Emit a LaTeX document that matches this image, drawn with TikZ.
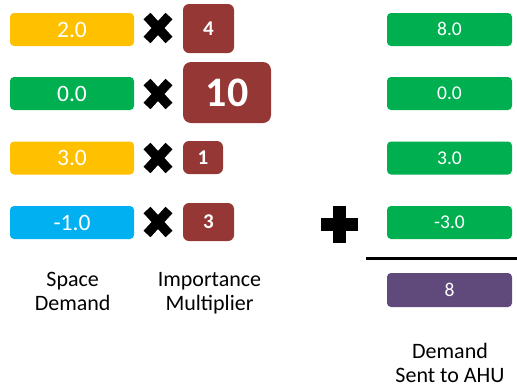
\documentclass[tikz,border=0pt]{standalone}
\usepackage{fontspec}
\setmainfont{Carlito}
\definecolor{cyel}{HTML}{FFC000}
\definecolor{cgrn}{HTML}{00B050}
\definecolor{cblu}{HTML}{00B0F0}
\definecolor{cred}{HTML}{953735}
\definecolor{cpur}{HTML}{604A7B}
\begin{document}
\begin{tikzpicture}[x=1pt,y=-1pt,
  valbox/.style={rounded corners=4pt, inner sep=0pt, text=white, minimum height=33pt,
    font=\fontsize{23.5}{23.5}\selectfont, text height=15pt, text depth=0pt},
  leftbox/.style={valbox, minimum width=124pt},
  rightbox/.style={valbox, minimum width=125pt, fill=cgrn,
    font=\fontsize{19.5}{19.5}\selectfont, text height=12.3pt},
  multbox/.style={rounded corners=6pt, inner sep=0pt, fill=cred, text=white,
    font=\bfseries\fontsize{21}{21}\selectfont, text height=13.3pt, text depth=0pt},
  lbl/.style={align=center, font=\fontsize{22}{24}\selectfont, inner sep=0pt, anchor=base},
  cross/.pic={
    \draw[line width=9.5pt, line cap=butt] (-11,-12) -- (11,12);
    \draw[line width=9.5pt, line cap=butt] (-11,12) -- (11,-12);
  }]
\useasboundingbox (0,0) rectangle (517,389);
% left column
\node[leftbox, fill=cyel] (s1) at (72,29.5) {2.0};
\node[leftbox, fill=cgrn] (s2) at (72,93.5) {0.0};
\node[leftbox, fill=cyel] (s3) at (72,158) {3.0};
\node[leftbox, fill=cblu] (s4) at (72,222.5) {-1.0};
% crosses
\pic at (158,28) {cross};
\pic at (158,94) {cross};
\pic at (158,158) {cross};
\pic at (158,222) {cross};
% multipliers
\node[multbox, minimum width=51pt, minimum height=49pt] (m1) at (208.5,28.5) {4};
\node[multbox, rounded corners=8pt, minimum width=88pt, minimum height=61pt,
  font=\bfseries\fontsize{42}{42}\selectfont, text height=27pt] (m2) at (227,92.5) {10};
\node[multbox, minimum width=40pt, minimum height=33pt] (m3) at (203,157.5) {1};
\node[multbox, minimum width=51pt, minimum height=38pt] (m4) at (208.5,222) {3};
% right column
\node[rightbox] (r1) at (449.5,29.5) {8.0};
\node[rightbox] (r2) at (449.5,93.5) {0.0};
\node[rightbox] (r3) at (449.5,158) {3.0};
\node[rightbox] (r4) at (449.5,222.5) {-3.0};
\node[rightbox, fill=cpur, minimum height=34pt] (sum) at (449.5,290) {8};
% plus
\fill (332.75,206) rectangle (346.25,243);
\fill (321,217.75) rectangle (358,231.25);
% sum line
\coordinate (la) at (366,258);
\coordinate (lb) at (517,258);
\draw[line width=3pt] (la) -- (lb);
% labels
\node[lbl] (l1) at (72.7,310) {Space\\Demand};
\node[lbl] (l2) at (209.5,310) {Importance\\Multiplier};
\node[lbl] (l3) at (450,382) {Demand\\Sent to AHU};
\end{tikzpicture}
\end{document}
